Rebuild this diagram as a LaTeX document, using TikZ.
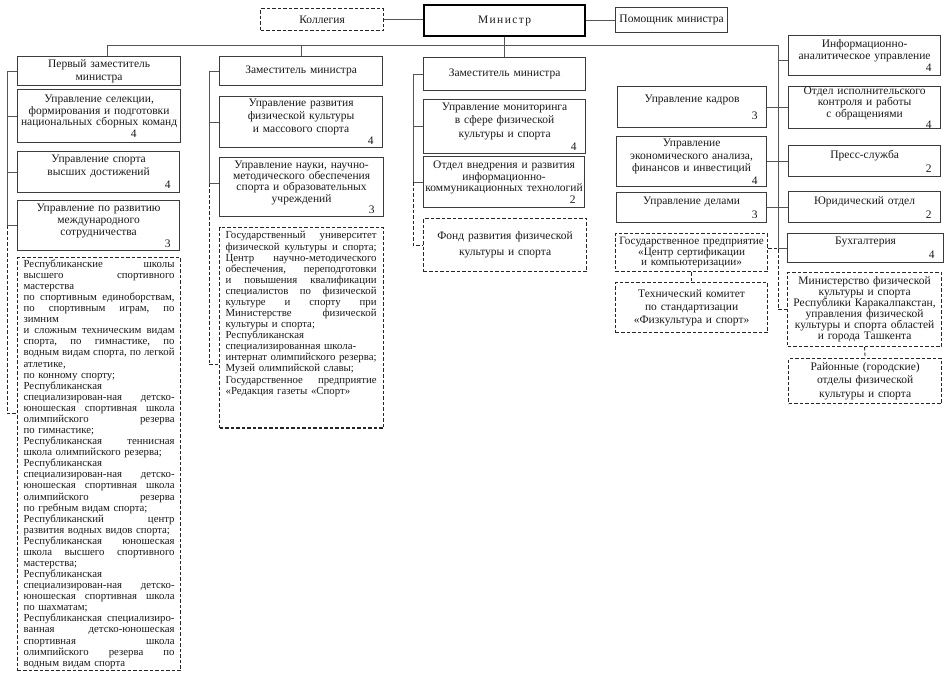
\documentclass[tikz,border=0pt]{standalone}
\usepackage{fontspec}
\setmainfont{Liberation Serif}
\usetikzlibrary{positioning, calc}
\definecolor{boxgray}{RGB}{60,60,60}
\definecolor{linkgray}{RGB}{85,85,85}
\newcommand{\jl}[1]{\leavevmode\hbox to 151pt{\frenchspacing\spaceskip=0.25em plus 1fil\relax #1}}
\newcommand{\nr}[1]{\\\hspace*{\fill}#1\kern9pt}
\tikzset{
  unit/.style={draw=boxgray, line width=1.2pt, anchor=north west, align=center, inner sep=0pt, text=black!90, font=\fontsize{11.5}{12.5}\selectfont},
  ls/.style={font=\fontsize{11.5}{#1}\selectfont},
  dims/.style 2 args={minimum width=#1pt, minimum height=#2pt, text width=#1pt},
  headunit/.style={unit, draw=black, line width=2.2pt},
  subunit/.style={unit, draw=black!85, dash pattern=on 3.5pt off 2pt},
  listunit/.style={subunit, align=left, inner xsep=6pt, inner ysep=2pt, font=\fontsize{10.8}{11.08}\selectfont},
  link/.style={draw=linkgray, line width=0.9pt},
  sublink/.style={link, draw=black!85, dash pattern=on 3.5pt off 2pt},
}
\begin{document}
\begin{tikzpicture}[x=1pt, y=-1pt]
\useasboundingbox (0,0) rectangle (945,675);
\node[subunit, dims={123}{22}] (kolleg) at (260,8) {Коллегия};
\node[headunit, dims={161}{31}] (minister) at (423,4) {{\addfontfeature{LetterSpace=12}Министр}};
\node[unit, dims={112}{25}] (helper) at (615,7) {Помощник министра};

\node[unit, dims={163}{29}] (first) at (17,56) {Первый заместитель\\министра};
\node[unit, dims={163}{53}, ls=11.7] (select) at (17,89) {Управление селекции,\\формирования и подготовки\\национальных сборных команд\\\hspace*{\fill}4\kern44pt};
\node[unit, dims={162}{41}, ls=13] (elite) at (17,151) {Управление спорта\\высших достижений\nr{4}};
\node[unit, dims={162}{50}, ls=12] (intl) at (17,200) {Управление по развитию\\международного\\сотрудничества\nr{3}};
\node[listunit, minimum width=163pt, text width=151pt] (schools) at (17,257) {\jl{Республиканские школы}\\
\jl{высшего спортивного}\\
мастерства\\
\jl{по спортивным единоборствам,}\\
\jl{по спортивным играм, по}\\
зимним\\
\jl{и сложным техническим видам}\\
\jl{спорта, по гимнастике, по}\\
\jl{водным видам спорта, по легкой}\\
атлетике,\\
по конному спорту;\\
Республиканская\\
\jl{специализирован-ная детско-}\\
\jl{юношеская спортивная школа}\\
\jl{олимпийского резерва}\\
по гимнастике;\\
\jl{Республиканская теннисная}\\
школа олимпийского резерва;\\
Республиканская\\
\jl{специализирован-ная детско-}\\
\jl{юношеская спортивная школа}\\
\jl{олимпийского резерва}\\
по гребным видам спорта;\\
\jl{Республиканский центр}\\
развития водных видов спорта;\\
\jl{Республиканская юношеская}\\
\jl{школа высшего спортивного}\\
мастерства;\\
Республиканская\\
\jl{специализирован-ная детско-}\\
\jl{юношеская спортивная школа}\\
по шахматам;\\
\jl{Республиканская специализиро-}\\
\jl{ванная детско-юношеская}\\
\jl{спортивная школа}\\
\jl{олимпийского резерва по}\\
водным видам спорта};

\node[unit, dims={163}{29}] (second) at (219,56) {Заместитель министра};
\node[unit, dims={163}{51}, ls=12.7] (mass) at (219,96) {Управление развития\\физической культуры\\и массового спорта\nr{4}};
\node[unit, dims={164}{59}, ls=11.3] (science) at (219,157) {Управление науки, научно-\\методического обеспечения\\спорта и образовательных\\учреждений\nr{3}};
\node[listunit, minimum width=164pt, text width=152pt, inner ysep=4pt, text depth=185pt] (univ) at (219,227) {\jl{Государственный университет}\\
\jl{физической культуры и спорта;}\\
\jl{Центр научно-методического}\\
\jl{обеспечения, переподготовки}\\
\jl{и повышения квалификации}\\
\jl{специалистов по физической}\\
\jl{культуре и спорту при}\\
\jl{Министерстве физической}\\
культуры и спорта;\\
Республиканская\\
специализированная школа-\\
\jl{интернат олимпийского резерва;}\\
Музей олимпийской славы;\\
\jl{Государственное предприятие}\\
«Редакция газеты «Спорт»};

\node[unit, dims={162}{33}] (third) at (423,57) {Заместитель министра};
\node[unit, dims={162}{54}, ls=13.3] (monitor) at (423,99) {Управление мониторинга\\в сфере физической\\культуры и спорта\nr{4}};
\node[unit, dims={161}{51}, ls=11.7] (ict) at (423,156) {Отдел внедрения и развития\\информационно-\\коммуникационных технологий\nr{2}};
\node[subunit, dims={163}{53}, ls=16] (fund) at (423,218) {Фонд развития физической\\культуры и спорта};

\node[unit, dims={149}{41}, ls=17] (staff) at (617,86) {Управление кадров\nr{3}};
\node[unit, dims={150}{50}, ls=12.5] (econ) at (616,136) {Управление\\экономического анализа,\\финансов и инвестиций\nr{4}};
\node[unit, dims={150}{30}, ls=14] (affairs) at (616,192) {Управление делами\nr{3}};
\node[subunit, dims={152}{38}, font=\fontsize{11.2}{10}\selectfont] (cert) at (615,233) {Государственное предприятие\\«Центр сертификации\\и компьютеризации»};
\node[subunit, dims={152}{50}, ls=13] (standard) at (615,282) {Технический комитет\\по стандартизации\\«Физкультура и спорт»};

\node[unit, dims={152}{40}, ls=12] (info) at (788,35) {Информационно-\\аналитическое управление\nr{4}};
\node[unit, dims={152}{41}, ls=9.5] (control) at (788,86) {Отдел исполнительского\\контроля и работы\\с обращениями\nr{4}};
\node[unit, dims={152}{31}, ls=14] (press) at (788,145) {Пресс-служба\nr{2}};
\node[unit, dims={152}{31}, ls=14] (legal) at (788,191) {Юридический отдел\nr{2}};
\node[unit, dims={156}{29}, ls=14] (account) at (787,233) {Бухгалтерия\nr{4}};
\node[subunit, dims={154}{74}, ls=11] (region) at (787,272) {Министерство физической\\культуры и спорта\\Республики Каракалпакстан,\\управления физической\\культуры и спорта областей\\и города Ташкента};
\node[subunit, dims={153}{45}, ls=13.5] (district) at (788,358) {Районные (городские)\\отделы физической\\культуры и спорта};

\coordinate (busR) at (778,45);
\draw[link] (kolleg.east) -- (kolleg.east -| minister.west);
\draw[link] (minister.east) -- (minister.east -| helper.west);
\draw[link] (minister.south) -- (minister.south |- third.north);
\draw[link] ([xshift=8pt]first.north) |- (busR) |- (account.west);
\draw[link] (second.north) -- (second.north |- busR);
\draw[link] (busR) |- ([yshift=-5pt]info.west);
\foreach \u in {control, press, legal} \draw[link] (busR) |- (\u.west);
\foreach \u in {staff, econ, affairs} \draw[link] (\u.east) -- (\u.east -| busR);

\foreach \u in {select, elite, intl} \draw[link] (first.west) -- ++(-10,0) |- (\u.west);
\draw[sublink] (intl.west) ++(-10,0) |- ([yshift=51pt]schools.west);
\draw[link] (second.west) -- ++(-10,0) |- (mass.west);
\draw[link] (second.west) -- ++(-10,0) |- ([yshift=3.5pt]science.west);
\draw[sublink] ([yshift=3.5pt]science.west) ++(-10,0) |- ([yshift=-37pt]univ.west);
\foreach \u in {monitor, ict} \draw[link] (third.west) -- ++(-10,0) |- (\u.west);
\draw[sublink] (ict.west) ++(-10,0) |- (fund.west);

\draw[sublink] (cert.east |- account.west) -- (busR |- account.west) |- (region.west);
\draw[sublink] (cert.south) -- (standard.north);
\draw[sublink] (region.south) -- (district.north);
\end{tikzpicture}
\end{document}
